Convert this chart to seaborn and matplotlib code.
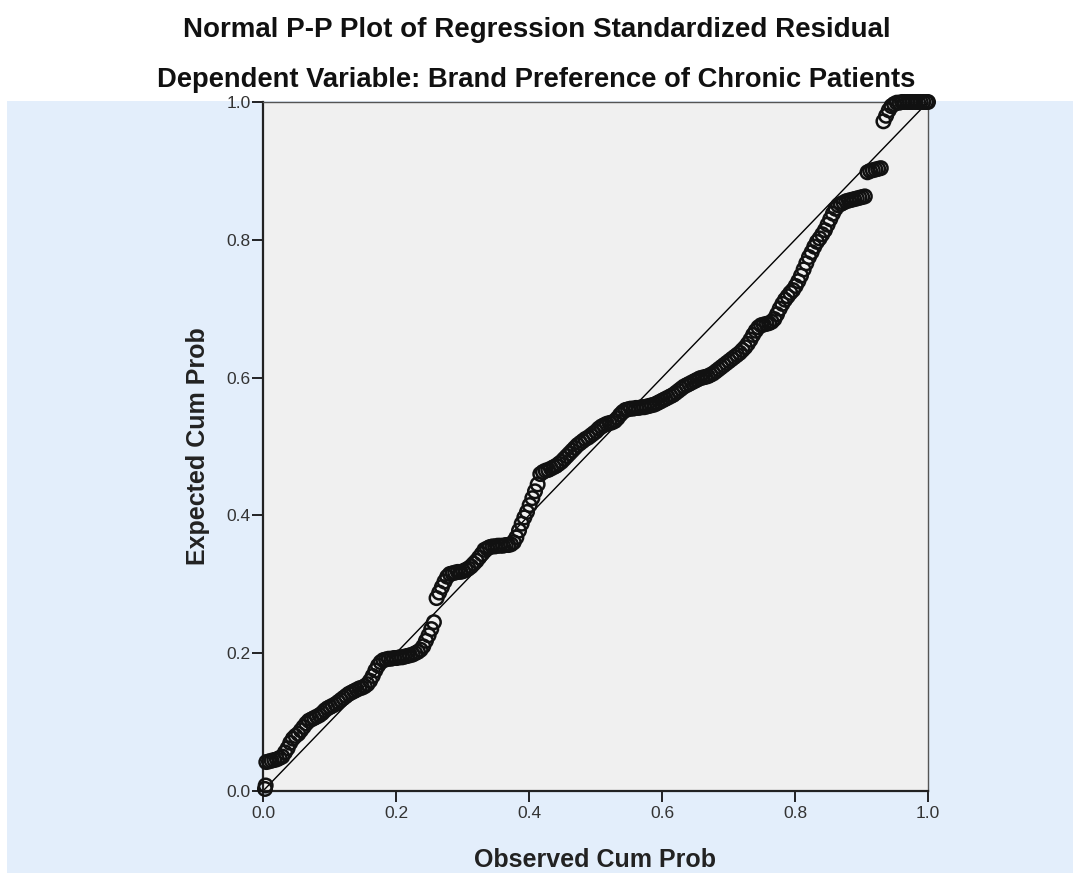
import matplotlib
matplotlib.use("Agg")
import matplotlib.pyplot as plt
from matplotlib.patches import Rectangle
import seaborn as sns
import pandas as pd

# Observed cumulative probability (x) and expected cumulative probability (y)
observed = [
    0.003, 0.004,
    0.005, 0.009, 0.013, 0.017, 0.021, 0.025, 0.029,
    0.033, 0.037, 0.041, 0.045, 0.049, 0.053, 0.057, 0.061, 0.065, 0.069,
    0.073, 0.077, 0.081, 0.085, 0.089, 0.093, 0.097, 0.101, 0.105, 0.109,
    0.113, 0.117, 0.121, 0.125, 0.129, 0.133, 0.137, 0.141, 0.145, 0.149,
    0.153, 0.157, 0.161, 0.165, 0.169,
    0.173, 0.177, 0.181, 0.185, 0.189,
    0.193, 0.197, 0.201, 0.205, 0.209, 0.213, 0.217, 0.221, 0.225, 0.229, 0.233, 0.237,
    0.241, 0.245, 0.249, 0.253, 0.257,
    0.261, 0.265, 0.269, 0.273, 0.277, 0.281,
    0.285, 0.289, 0.293, 0.297, 0.301, 0.305, 0.309,
    0.313, 0.317, 0.321, 0.325, 0.329, 0.333,
    0.337, 0.341, 0.345, 0.349, 0.353, 0.357, 0.361, 0.365, 0.369, 0.373, 0.377,
    0.381, 0.385, 0.389, 0.393, 0.397, 0.401, 0.405, 0.409, 0.413, 0.417,
    0.421, 0.425, 0.429, 0.433, 0.437, 0.441, 0.445, 0.449, 0.453, 0.457,
    0.461, 0.465, 0.469, 0.473, 0.477, 0.481, 0.485, 0.489, 0.493, 0.497,
    0.501, 0.505, 0.509, 0.513, 0.517, 0.521, 0.525, 0.529, 0.533, 0.537, 0.541, 0.545,
    0.549, 0.553, 0.557, 0.561, 0.565, 0.569, 0.573, 0.577, 0.581, 0.585,
    0.589, 0.593, 0.597, 0.601, 0.605,
    0.609, 0.613, 0.617, 0.621, 0.625, 0.629, 0.633, 0.637, 0.641, 0.645,
    0.649, 0.653, 0.657,
    0.661, 0.665, 0.669, 0.673, 0.677, 0.681, 0.685, 0.689, 0.693, 0.697,
    0.701, 0.705, 0.709, 0.713, 0.717, 0.721, 0.725, 0.729, 0.733, 0.737,
    0.741, 0.745, 0.749, 0.753, 0.757, 0.761, 0.765, 0.769,
    0.773, 0.777, 0.781, 0.785, 0.789, 0.793, 0.797, 0.801, 0.805, 0.809,
    0.813, 0.817, 0.821, 0.825, 0.829, 0.833, 0.837, 0.841, 0.845, 0.849,
    0.853, 0.857, 0.861, 0.865,
    0.869, 0.873, 0.877, 0.881, 0.885, 0.889, 0.893, 0.897, 0.901, 0.905,
    0.909, 0.913, 0.917, 0.921, 0.925, 0.929,
    0.933, 0.937, 0.941, 0.945, 0.949,
    0.953, 0.957, 0.961, 0.965, 0.969, 0.973, 0.977, 0.981, 0.985, 0.989,
    0.993, 0.997, 1.000,
]
expected = [
    0.003, 0.008,
    0.042, 0.043, 0.044, 0.045, 0.046, 0.048, 0.050,
    0.056, 0.062, 0.070, 0.076, 0.080, 0.083, 0.088, 0.093, 0.098, 0.102,
    0.104, 0.106, 0.108, 0.110, 0.113, 0.117, 0.120, 0.122, 0.124, 0.126,
    0.129, 0.132, 0.135, 0.138, 0.141, 0.143, 0.145, 0.147, 0.149, 0.150,
    0.152, 0.155, 0.160, 0.167, 0.175,
    0.182, 0.187, 0.190, 0.191, 0.192,
    0.192, 0.193, 0.193, 0.194, 0.194, 0.195, 0.196, 0.197, 0.198, 0.200, 0.202, 0.205,
    0.210, 0.218, 0.226, 0.235, 0.245,
    0.280, 0.288, 0.296, 0.304, 0.311, 0.315,
    0.316, 0.317, 0.318, 0.318, 0.319, 0.321, 0.323,
    0.326, 0.330, 0.334, 0.339, 0.344, 0.350,
    0.352, 0.354, 0.355, 0.355, 0.356, 0.356, 0.356, 0.357, 0.357, 0.358, 0.361,
    0.368, 0.378, 0.388, 0.397, 0.405, 0.415, 0.425, 0.435, 0.445, 0.460,
    0.463, 0.465, 0.466, 0.468, 0.470, 0.472, 0.475, 0.478, 0.482, 0.486,
    0.490, 0.494, 0.498, 0.502, 0.505, 0.508, 0.511, 0.513, 0.516, 0.519,
    0.522, 0.526, 0.529, 0.531, 0.533, 0.534, 0.535, 0.537, 0.541, 0.546, 0.550, 0.553,
    0.554, 0.555, 0.555, 0.556, 0.556, 0.557, 0.557, 0.558, 0.559, 0.560,
    0.561, 0.563, 0.565, 0.567, 0.569,
    0.571, 0.573, 0.575, 0.578, 0.581, 0.584, 0.587, 0.589, 0.591, 0.593,
    0.595, 0.597, 0.599,
    0.600, 0.601, 0.602, 0.604, 0.606, 0.609, 0.612, 0.615, 0.618, 0.621,
    0.624, 0.627, 0.630, 0.633, 0.636, 0.640, 0.644, 0.649, 0.655, 0.662,
    0.668, 0.673, 0.676, 0.677, 0.678, 0.679, 0.681, 0.685,
    0.692, 0.700, 0.707, 0.713, 0.718, 0.723, 0.727, 0.733, 0.740, 0.748,
    0.757, 0.766, 0.775, 0.782, 0.790, 0.797, 0.802, 0.808, 0.814, 0.822,
    0.830, 0.838, 0.845, 0.850,
    0.852, 0.854, 0.856, 0.857, 0.858, 0.859, 0.860, 0.861, 0.862, 0.863,
    0.898, 0.900, 0.901, 0.902, 0.903, 0.904,
    0.972, 0.980, 0.988, 0.994, 0.997,
    0.999, 0.999, 1.000, 1.000, 1.000, 1.000, 1.000, 1.000, 1.000, 1.000,
    1.000, 1.000, 1.000,
]

ref_line_x = [0.0, 1.0]
ref_line_y = [0.0, 1.0]
tick_values = [0.0, 0.2, 0.4, 0.6, 0.8, 1.0]
tick_labels = ["0.0", "0.2", "0.4", "0.6", "0.8", "1.0"]

title_1 = "Normal P-P Plot of Regression Standardized Residual"
title_2 = "Dependent Variable: Brand Preference of Chronic Patients"
x_label = "Observed Cum Prob"
y_label = "Expected Cum Prob"

df = pd.DataFrame({"observed": observed, "expected": expected})

sns.set_theme(style="white")
plt.rcParams["font.family"] = ["Liberation Sans", "DejaVu Sans"]

W, H = 1073, 883
fig = plt.figure(figsize=(W / 100, H / 100), dpi=100)
fig.patch.set_facecolor("white")

# light blue panel behind the plot
bg = fig.add_axes([7 / W, (H - 873) / H, 1 - 7 / W, (873 - 101) / H], zorder=0)
bg.add_patch(Rectangle((0, 0), 1, 1, transform=bg.transAxes, facecolor="#E3EEFB",
                       edgecolor="none"))
bg.set_axis_off()

ax = fig.add_axes([263 / W, (H - 791) / H, (928 - 263) / W, (791 - 102) / H], zorder=2)
ax.set_facecolor("#F0F0F0")

sns.lineplot(x=ref_line_x, y=ref_line_y, ax=ax, color="black", linewidth=1.0, zorder=2)
sns.scatterplot(data=df, x="observed", y="expected", ax=ax, marker="o",
                facecolor="none", edgecolor="#111111", linewidth=1.8, s=95, zorder=3,
                clip_on=False)

ax.set_xlim(0, 1)
ax.set_ylim(0, 1)
ax.set_xticks(tick_values)
ax.set_xticklabels(tick_labels)
ax.set_yticks(tick_values)
ax.set_yticklabels(tick_labels)
ax.tick_params(axis="both", direction="out", length=8, width=1.2, color="black",
               labelsize=12.5, labelcolor="#333333", pad=1)
ax.tick_params(axis="x", pad=3)
ax.tick_params(bottom=True, left=True)

for side in ["left", "bottom"]:
    ax.spines[side].set_color("#222222")
    ax.spines[side].set_linewidth(1.6)
for side in ["top", "right"]:
    ax.spines[side].set_color("#555555")
    ax.spines[side].set_linewidth(1.0)

ax.set_xlabel(x_label, fontsize=18, fontweight="bold", color="#222222", labelpad=19)
ax.set_ylabel(y_label, fontsize=18, fontweight="bold", color="#222222", labelpad=11.5)

fig.text(0.5, 1 - 30 / H, title_1, ha="center", va="center", fontsize=20,
         fontweight="bold", color="#111111")
fig.text(0.5, 1 - 80 / H, title_2, ha="center", va="center", fontsize=19.7,
         fontweight="bold", color="#111111")

fig.savefig("out.png", dpi=100, facecolor="white")
